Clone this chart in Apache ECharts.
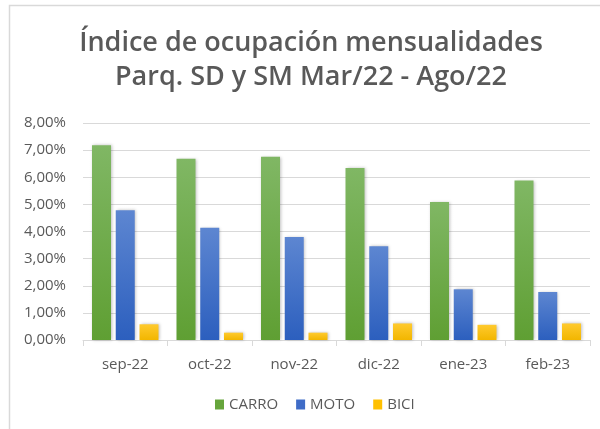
<!DOCTYPE html>
<html>
<head>
<meta charset="utf-8">
<script src="https://cdn.jsdelivr.net/npm/echarts@6/dist/echarts.min.js"></script>
<style>
  html, body { margin: 0; padding: 0; background: #ffffff; }
  #chart { width: 600px; height: 429px; }
</style>
</head>
<body>
<div id="chart"></div>
<script>
// Monthly occupancy index by vehicle type (percent)
const categories = ['sep-22', 'oct-22', 'nov-22', 'dic-22', 'ene-23', 'feb-23'];
const carro = [7.18, 6.68, 6.76, 6.34, 5.09, 5.88];
const moto  = [4.78, 4.14, 3.80, 3.46, 1.87, 1.77];
const bici  = [0.58, 0.27, 0.27, 0.61, 0.56, 0.61];
const seriesNames = ['CARRO', 'MOTO', 'BICI'];

const fontFamily = '"Open Sans", "Noto Sans", sans-serif';
const textColor = '#595959';

function grad(top, bottom) {
  return new echarts.graphic.LinearGradient(0, 0, 0, 1, [
    { offset: 0, color: top },
    { offset: 1, color: bottom }
  ]);
}

const palettes = [
  { fill: grad('#80b764', '#5f9f33'), legend: '#66a53c' },
  { fill: grad('#5d86d1', '#2c5fbe'), legend: '#3f6cc7' },
  { fill: grad('#ffca2e', '#f2b600'), legend: '#ffc000' }
];

function pctLabel(v) {
  return v.toFixed(2).replace('.', ',') + '%';
}

const chart = echarts.init(document.getElementById('chart'), null, { renderer: 'canvas' });

const dataSets = [carro, moto, bici];

chart.setOption({
  animation: false,
  backgroundColor: '#ffffff',
  graphic: [{
    type: 'rect',
    shape: { x: 9.5, y: 5.5, width: 620, height: 440 },
    style: { fill: 'none', stroke: '#d9d9d9', lineWidth: 1.5 },
    z: -1
  }],
  title: {
    text: 'Índice de ocupación mensualidades\nParq. SD y SM Mar/22 - Ago/22',
    left: 306,
    textAlign: 'center',
    top: 21,
    textStyle: {
      fontFamily: fontFamily,
      fontSize: 27,
      fontWeight: 600,
      color: textColor,
      lineHeight: 34
    }
  },
  legend: {
    top: 397,
    left: 215,
    padding: 0,
    itemWidth: 9,
    itemHeight: 10,
    itemGap: 18,
    icon: 'rect',
    textStyle: { fontFamily: fontFamily, fontSize: 15, color: textColor },
    data: seriesNames.map((n, i) => ({ name: n, itemStyle: { color: palettes[i].legend } }))
  },
  grid: { left: 83, right: 10, top: 123, bottom: 89 },
  xAxis: {
    type: 'category',
    data: categories,
    axisLine: { lineStyle: { color: '#d9d9d9', width: 1 } },
    axisTick: { show: true, length: 6, lineStyle: { color: '#d9d9d9' } },
    axisLabel: { fontFamily: fontFamily, fontSize: 15, color: textColor, margin: 17 }
  },
  yAxis: {
    type: 'value',
    min: 0,
    max: 8,
    interval: 1,
    axisLine: { show: false },
    axisTick: { show: false },
    splitLine: { lineStyle: { color: '#d9d9d9', width: 1 } },
    axisLabel: {
      fontFamily: fontFamily,
      fontSize: 15,
      color: textColor,
      margin: 17,
      formatter: pctLabel
    }
  },
  series: seriesNames.map((name, i) => ({
    name: name,
    type: 'bar',
    data: dataSets[i],
    barWidth: 19,
    barGap: '25%',
    itemStyle: {
      color: palettes[i].fill,
      shadowColor: 'rgba(0,0,0,0.25)',
      shadowBlur: 3,
      shadowOffsetX: 1,
      shadowOffsetY: 0
    }
  }))
});
</script>
</body>
</html>
